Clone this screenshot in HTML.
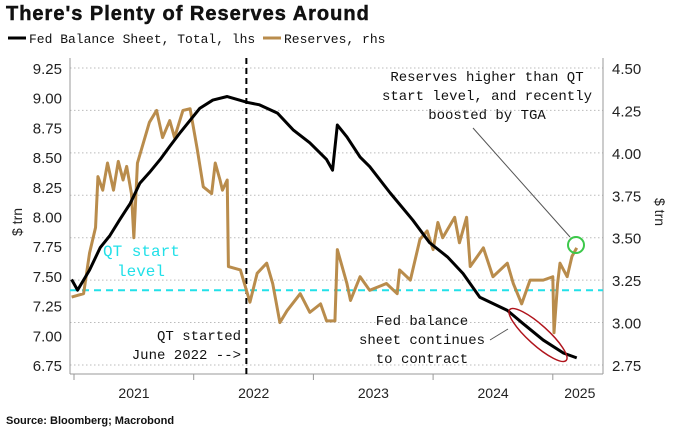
<!DOCTYPE html>
<html><head><meta charset="utf-8"><style>
body{margin:0;background:#fff;}
svg{display:block;}
.m{font-family:"Liberation Mono","DejaVu Sans Mono",monospace;}
.s{font-family:"Liberation Sans","DejaVu Sans",sans-serif;}
</style></head><body>
<svg id="c" width="680" height="436" viewBox="0 0 680 436" xmlns="http://www.w3.org/2000/svg">
<text x="6" y="20" class="s" font-size="20" font-weight="bold" letter-spacing="1" fill="#111" stroke="#111" stroke-width="0.5">There's Plenty of Reserves Around</text>
<g>
<line x1="8" y1="38" x2="26" y2="38" stroke="#000" stroke-width="3"/>
<text x="29" y="43" class="m" font-size="13" fill="#111">Fed Balance Sheet, Total, lhs</text>
<line x1="263" y1="38" x2="281" y2="38" stroke="#b98c4c" stroke-width="3"/>
<text x="284" y="43" class="m" font-size="13" fill="#111">Reserves, rhs</text>
</g>
<g id="grid"></g>
<g id="axes"></g>
<g id="series"></g>
<text x="103" y="256" class="m" font-size="16" fill="#22e0e8">QT start</text>
<text x="117" y="276" class="m" font-size="16" fill="#22e0e8">level</text>
<text x="241" y="340" class="m" font-size="14" fill="#111" text-anchor="end">QT started</text>
<text x="241" y="359" class="m" font-size="14" fill="#111" text-anchor="end">June 2022 --&gt;</text>
<g class="m" font-size="14" fill="#111" text-anchor="middle">
<text x="487" y="81">Reserves higher than QT</text>
<text x="487" y="100">start level, and recently</text>
<text x="487" y="119">boosted by TGA</text></g>
<g class="m" font-size="14" fill="#111" text-anchor="middle">
<text x="422" y="325">Fed balance</text>
<text x="422" y="344">sheet continues</text>
<text x="422" y="363">to contract</text></g>
<line x1="473" y1="128" x2="570" y2="237" stroke="#555" stroke-width="1"/>
<line x1="490" y1="340" x2="508" y2="329" stroke="#555" stroke-width="1"/>
<circle cx="576" cy="245" r="8" fill="none" stroke="#3cc84a" stroke-width="2"/>
<ellipse cx="538" cy="335" rx="38" ry="10" transform="rotate(42 538 335)" fill="none" stroke="#b0141c" stroke-width="1.5"/>
<text x="6" y="424" class="s" font-size="11" font-weight="bold" fill="#111">Source: Bloomberg; Macrobond</text>
</svg>
<script>
const fedT=[2020.98,2021.03,2021.13,2021.22,2021.30,2021.38,2021.47,2021.55,2021.63,2021.72,2021.80,2021.89,2021.97,2022.05,2022.16,2022.28,2022.45,2022.55,2022.70,2022.83,2022.97,2023.11,2023.16,2023.20,2023.28,2023.39,2023.47,2023.64,2023.83,2023.97,2024.12,2024.25,2024.39,2024.62,2024.75,2024.92,2025.09,2025.20];
const fedV=[7.47,7.38,7.55,7.74,7.84,7.97,8.11,8.28,8.37,8.48,8.59,8.71,8.81,8.91,8.98,9.01,8.96,8.94,8.87,8.73,8.62,8.48,8.39,8.77,8.67,8.50,8.42,8.20,7.97,7.78,7.66,7.52,7.32,7.21,7.10,6.96,6.85,6.81];
const resT=[2020.98,2021.08,2021.13,2021.18,2021.20,2021.24,2021.28,2021.33,2021.37,2021.41,2021.44,2021.48,2021.50,2021.53,2021.63,2021.69,2021.74,2021.80,2021.84,2021.91,2021.97,2022.03,2022.08,2022.15,2022.18,2022.22,2022.24,2022.28,2022.29,2022.39,2022.47,2022.53,2022.61,2022.66,2022.72,2022.78,2022.89,2022.97,2023.06,2023.11,2023.18,2023.20,2023.28,2023.31,2023.39,2023.47,2023.61,2023.70,2023.72,2023.81,2023.89,2023.95,2024.00,2024.04,2024.08,2024.18,2024.22,2024.28,2024.31,2024.37,2024.42,2024.50,2024.62,2024.67,2024.74,2024.81,2024.92,2025.00,2025.01,2025.04,2025.06,2025.12,2025.16,2025.20];
const resV=[3.15,3.17,3.41,3.56,3.86,3.78,3.94,3.78,3.95,3.84,3.92,3.76,3.50,3.94,4.18,4.25,4.09,4.19,4.09,4.25,4.26,4.02,3.80,3.76,3.94,3.84,3.78,3.84,3.33,3.31,3.12,3.29,3.35,3.23,3.00,3.07,3.17,3.06,3.11,3.01,3.01,3.43,3.23,3.13,3.27,3.19,3.23,3.17,3.31,3.25,3.49,3.54,3.43,3.59,3.50,3.62,3.47,3.62,3.33,3.39,3.44,3.27,3.35,3.23,3.11,3.25,3.25,3.27,2.94,3.23,3.35,3.27,3.39,3.44];
const leftTicks=[9.25,9.00,8.75,8.50,8.25,8.00,7.75,7.50,7.25,7.00,6.75];
const rightTicks=[4.50,4.25,4.00,3.75,3.50,3.25,3.00,2.75];
const years=[2021,2022,2023,2024,2025];
const qtLevel=3.19;
const qtDate=2022.44;

const X0=70,X1=603,Y0=68,Y1=365;
const xs=t=>74+(t-2021)*119.7;
const yl=v=>Y0+(9.25-v)*118.8;
const yr=v=>Y0+(4.5-v)*169.7;
const NS='http://www.w3.org/2000/svg';
function mk(tag,attrs,parent){const e=document.createElementNS(NS,tag);for(const k in attrs)e.setAttribute(k,attrs[k]);parent.appendChild(e);return e;}
const grid=document.getElementById('grid'),axes=document.getElementById('axes'),ser=document.getElementById('series');
rightTicks.forEach(v=>{const l=mk('line',{x1:X0,x2:X1,y1:yr(v),y2:yr(v),stroke:'#bbb','stroke-dasharray':'1.5 2.5','stroke-width':1},grid);

});
const la=mk('line',{x1:X0,x2:X0,y1:58,y2:374,stroke:'#999'},axes);


const ra=mk('line',{x1:X1,x2:X1,y1:58,y2:374,stroke:'#999'},axes);


const ba=mk('line',{x1:X0,x2:X1,y1:374,y2:374,stroke:'#999'},axes);


leftTicks.forEach(v=>{const t=mk('text',{x:62,y:yl(v)+6,'text-anchor':'end','font-size':15,fill:'#222',class:'s'},axes);t.textContent=v.toFixed(2);

});
rightTicks.forEach(v=>{const t=mk('text',{x:612,y:yr(v)+6,'font-size':15,fill:'#222',class:'s'},axes);t.textContent=v.toFixed(2);

});
years.forEach(y=>{const tk=mk('line',{x1:xs(y),x2:xs(y),y1:374,y2:380,stroke:'#999'},axes);


const cx=y<2025?xs(y)+60:xs(y)+27;
const t=mk('text',{x:cx,y:398,'text-anchor':'middle','font-size':14,fill:'#222',class:'s'},axes);t.textContent=y;

});
const yl1=mk('text',{x:0,y:0,'font-size':14,fill:'#222',class:'s',transform:'translate(22,222) rotate(-90)','text-anchor':'middle'},axes);yl1.textContent='$ trn';


const yr1=mk('text',{x:0,y:0,'font-size':14,fill:'#222',class:'s',transform:'translate(655,212) rotate(90)','text-anchor':'middle'},axes);yr1.textContent='$ trn';


const qt=mk('line',{x1:X0,x2:X1,y1:yr(qtLevel),y2:yr(qtLevel),stroke:'#22e0e8','stroke-width':2,'stroke-dasharray':'7 5'},ser);


const qd=mk('line',{x1:xs(qtDate),x2:xs(qtDate),y1:58,y2:374,stroke:'#000','stroke-width':2,'stroke-dasharray':'6 4'},ser);


const rp=mk('polyline',{points:resT.map((t,i)=>xs(t)+','+yr(resV[i])).join(' '),fill:'none',stroke:'#b98c4c','stroke-width':3,'stroke-linejoin':'round'},ser);


const fp=mk('polyline',{points:fedT.map((t,i)=>xs(t)+','+yl(fedV[i])).join(' '),fill:'none',stroke:'#000','stroke-width':3,'stroke-linejoin':'round'},ser);


</script>
</body></html>
